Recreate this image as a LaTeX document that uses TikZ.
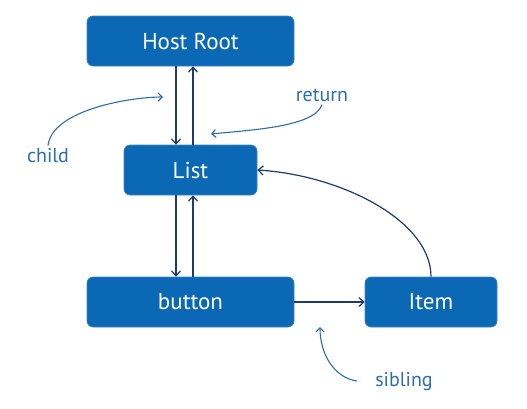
\documentclass[tikz,border=0pt]{standalone}
\usepackage{fontspec}
\setmainfont{PT Sans}
\usetikzlibrary{arrows.meta}
\definecolor{boxblue}{HTML}{0A68B4}
\definecolor{navy}{HTML}{1F3A70}
\definecolor{annot}{HTML}{2A6EB0}
\tikzset{
  fiber/.style={draw=boxblue!80!white, fill=boxblue, rounded corners=6pt, text=white, font=\fontsize{23}{26}\selectfont, inner sep=0pt, line width=0.6pt},
  link/.style={draw=navy, line width=1.2pt, -{Straight Barb[length=5pt,width=9pt,line width=1.2pt]}},
  note/.style={draw=annot, line width=1.1pt, -{Straight Barb[length=4pt,width=8pt,line width=1.1pt]}},
  notetext/.style={text=annot, font=\fontsize{20}{23}\selectfont, inner sep=0pt}
}
\begin{document}
\begin{tikzpicture}[x=1pt,y=-1pt]
\useasboundingbox (0,0) rectangle (527,408);
\node[fiber, minimum width=207pt, minimum height=50pt] (root) at (190.5,41) {Host Root};
\node[fiber, minimum width=133pt, minimum height=50pt] (list) at (190.5,170) {List};
\node[fiber, minimum width=207pt, minimum height=50pt] (button) at (190.5,302) {button};
\node[fiber, minimum width=132pt, minimum height=50pt] (item) at (431,302) {Item};
% child / return links
\draw[link] (root.south -| 176,0) -- (list.north -| 176,0);
\draw[link] (list.north -| 193,0) -- (root.south -| 193,0);
\draw[link] (list.south -| 176,0) -- (button.north -| 176,0);
\draw[link] (button.north -| 193,0) -- (list.south -| 193,0);
\draw[link] (button.east) -- (item.west);
\draw[link] (item.north) .. controls (431,220) and (340,175) .. (list.east);
% annotations
\node[notetext] (child) at (48,156) {child};
\node[notetext] (ret) at (322,95) {return};
\node[notetext] (sib) at (404,382) {sibling};
\coordinate (childtip) at (163,97);
\coordinate (rettip) at (211,134);
\coordinate (sibtip) at (320,327);
\coordinate (sibstart) at (357,381);
\draw[note] (child.north) ++(0,-3) .. controls (52,110) and (130,97) .. (childtip);
\draw[note] (ret.south) ++(0,3) .. controls (315,127) and (250,130) .. (rettip);
\draw[note] (sibstart) .. controls (335,378) and (320,355) .. (sibtip);
\end{tikzpicture}
\end{document}
